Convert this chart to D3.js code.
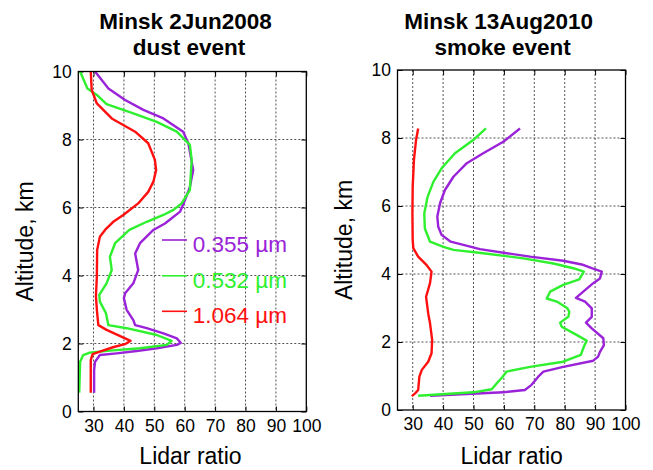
<!DOCTYPE html>
<html>
<head>
<meta charset="utf-8">
<script src="https://cdn.jsdelivr.net/npm/d3@7"></script>
<style>
  html, body { margin: 0; padding: 0; background: #fff; }
  svg { display: block; font-family: "Liberation Sans", Arial, sans-serif; }
</style>
</head>
<body>
<svg id="chart" width="653" height="470"></svg>
<script>
// ---------------- DATA ----------------
const xTicks = [30, 40, 50, 60, 70, 80, 90, 100];
const yTicks = [0, 2, 4, 6, 8, 10];
const xDomain = [25, 100];
const yDomain = [0, 10];

const seriesNames = ["0.355 \u00B5m", "0.532 \u00B5m", "1.064 \u00B5m"];
const seriesColors = ["#9a22d8", "#2ef02e", "#ff1010"];

const panelTitles = [["Minsk 2Jun2008", "dust event"], ["Minsk 13Aug2010", "smoke event"]];
const xLabel = "Lidar ratio";
const yLabel = "Altitude, km";

// Dust event (2 Jun 2008): [lidar ratio, altitude km]
const dust355 = [[30.5,10],[34.9,9.5],[40.4,9.16],[46.4,8.87],[53.0,8.62],[59.5,8.23],[61.2,7.89],[62.8,7.1],[61.7,6.6],[60.1,6.22],[58.5,5.88],[53.5,5.53],[49.7,5.34],[45.3,4.95],[43.7,4.65],[44.7,4.16],[43.1,3.77],[40.4,3.48],[40.0,3.33],[40.9,2.99],[43.1,2.69],[43.7,2.54],[47.5,2.45],[53.0,2.3],[57.4,2.15],[58.7,2.02],[57.4,1.96],[50.8,1.86],[44.2,1.78],[37.6,1.71],[32.1,1.66],[30.5,1.46],[30.2,1.22],[30.2,0.55]];
const dust532 = [[25.6,10],[28.0,9.5],[31.1,9.31],[34.3,9.04],[43.1,8.77],[50.8,8.52],[57.4,8.23],[61.7,7.84],[62.3,7.4],[61.7,6.51],[59.0,6.12],[56.3,5.93],[53.0,5.78],[47.5,5.58],[41.8,5.34],[37.1,4.95],[35.4,4.55],[36.0,4.16],[34.3,3.77],[31.9,3.43],[32.1,3.23],[34.1,2.89],[34.9,2.54],[40.9,2.45],[50.8,2.25],[55.7,2.08],[54.1,1.96],[45.3,1.86],[35.4,1.79],[28.8,1.73],[26.6,1.66],[25.6,1.46],[25.3,0.55]];
const dust1064 = [[29.1,10],[29.4,9.46],[31.1,9.06],[36.0,8.62],[43.7,8.23],[48.0,7.89],[50.2,7.4],[50.6,7.1],[49.7,6.76],[48.0,6.46],[44.7,6.12],[39.8,5.78],[36.5,5.58],[33.8,5.34],[32.1,5.14],[31.2,4.75],[31.1,3.96],[30.8,3.38],[31.2,2.89],[31.6,2.54],[34.3,2.4],[40.4,2.15],[42.2,2.08],[40.6,1.99],[36.4,1.89],[32.1,1.76],[29.7,1.69],[29.1,1.51],[29.1,0.55]];

// Smoke event (13 Aug 2010): [lidar ratio, altitude km]
const smoke355 = [[65.3,8.28],[59.8,7.89],[53.2,7.55],[47.8,7.26],[43.4,6.86],[40.6,6.47],[39.0,6.08],[38.1,5.69],[38.4,5.39],[39.5,5.15],[42.5,4.95],[52.1,4.73],[68.6,4.51],[79.5,4.39],[85.6,4.28],[88.9,4.17],[92.2,4.07],[91.6,3.87],[89.4,3.73],[86.1,3.48],[83.7,3.30],[86.7,3.19],[88.9,2.99],[88.9,2.74],[87.0,2.57],[88.9,2.4],[92.7,2.11],[92.9,1.91],[91.6,1.71],[91.0,1.57],[89.4,1.45],[79.5,1.27],[73.0,1.13],[71.3,0.98],[69.1,0.74],[66.9,0.59],[59.8,0.52],[35.7,0.42]];
const smoke532 = [[54.1,8.28],[49.9,7.94],[43.9,7.55],[39.5,7.11],[36.8,6.71],[34.9,6.27],[33.8,5.78],[34.0,5.34],[35.7,4.95],[40.1,4.8],[43.4,4.71],[53.2,4.61],[66.4,4.46],[76.3,4.31],[82.8,4.17],[86.3,4.07],[84.8,3.84],[79.5,3.68],[75.2,3.48],[74.1,3.28],[77.4,3.19],[80.9,2.99],[81.5,2.89],[81.2,2.74],[78.5,2.57],[79.0,2.45],[83.9,2.21],[87.2,2.04],[86.3,1.86],[85.3,1.62],[79.5,1.42],[68.6,1.27],[60.9,1.13],[59.6,0.98],[57.6,0.78],[56.0,0.61],[49.9,0.52],[31.8,0.42]];
const smoke1064 = [[31.8,8.28],[31.1,7.94],[30.4,7.35],[30.0,6.57],[29.9,5.78],[30.0,5.0],[30.2,4.76],[31.8,4.51],[34.6,4.26],[36.2,4.07],[35.7,3.73],[34.4,3.33],[35.1,2.84],[35.7,2.55],[36.4,2.06],[36.2,1.67],[35.1,1.42],[33.0,1.18],[32.2,0.98],[31.8,0.59],[30.8,0.49],[29.7,0.41]];

const panelSeries = [[dust355, dust532, dust1064], [smoke355, smoke532, smoke1064]];

// ---------------- LAYOUT ----------------
const panels = [
  { left: 78.3, right: 306.3, top: 71.5, bottom: 411.5,
    title: [{cx: 185.5, y: 29.3}, {cx: 189, y: 54.5}], xLabelX: 190.5, yLabelY: 241.5, legend: true },
  { left: 397.5, right: 625.5, top: 70, bottom: 410,
    title: [{cx: 498.7, y: 29.3}, {cx: 502.7, y: 54.5}], xLabelX: 511.7, yLabelY: 240, legend: false }
];

const svg = d3.select("#chart");

panels.forEach((p, pi) => {
  const x = d3.scaleLinear().domain(xDomain).range([p.left, p.right]);
  const y = d3.scaleLinear().domain(yDomain).range([p.bottom, p.top]);
  const g = svg.append("g");

  // grid
  g.append("g").selectAll("line").data(xTicks.filter(t => t > xDomain[0] && t < xDomain[1]))
    .join("line")
    .attr("x1", d => x(d)).attr("x2", d => x(d))
    .attr("y1", p.top).attr("y2", p.bottom)
    .attr("stroke", "#555").attr("stroke-width", 1).attr("stroke-dasharray", "2,2");
  g.append("g").selectAll("line").data(yTicks.filter(t => t > yDomain[0] && t < yDomain[1]))
    .join("line")
    .attr("y1", d => y(d)).attr("y2", d => y(d))
    .attr("x1", p.left).attr("x2", p.right)
    .attr("stroke", "#555").attr("stroke-width", 1).attr("stroke-dasharray", "2,2");

  // axes (ticks inward)
  const xAxis = d3.axisBottom(x).tickValues(xTicks).tickSize(-5).tickPadding(8).tickFormat(d3.format("d"));
  const yAxis = d3.axisLeft(y).tickValues(yTicks).tickSize(-5).tickPadding(6.6).tickFormat(d3.format("d"));
  const xa = g.append("g").attr("transform", `translate(0,${p.bottom})`).call(xAxis);
  const ya = g.append("g").attr("transform", `translate(${p.left},0)`).call(yAxis);
  const xt = g.append("g").attr("transform", `translate(0,${p.top})`).call(d3.axisTop(x).tickValues(xTicks).tickSize(-5).tickFormat(""));
  const yr = g.append("g").attr("transform", `translate(${p.right},0)`).call(d3.axisRight(y).tickValues(yTicks).tickSize(-5).tickFormat(""));
  [xa, ya, xt, yr].forEach(a => {
    a.select(".domain").remove();
    a.selectAll(".tick line").attr("stroke", "#000").attr("stroke-width", 1);
    a.selectAll("text").attr("font-size", 17.5).attr("fill", "#000")
      .attr("font-family", "'Liberation Sans', Arial, sans-serif");
  });

  // series lines
  const line = d3.line().x(d => x(d[0])).y(d => y(d[1])).curve(d3.curveLinear);
  panelSeries[pi].forEach((s, si) => {
    g.append("path").datum(s)
      .attr("d", line)
      .attr("fill", "none")
      .attr("stroke", seriesColors[si])
      .attr("stroke-width", 2.4)
      .attr("stroke-linejoin", "round");
  });

  // frame
  g.append("rect")
    .attr("x", p.left).attr("y", p.top)
    .attr("width", p.right - p.left).attr("height", p.bottom - p.top)
    .attr("fill", "none").attr("stroke", "#000").attr("stroke-width", 1.3);

  // titles
  panelTitles[pi].forEach((t, ti) => {
    svg.append("text")
      .attr("x", p.title[ti].cx).attr("y", p.title[ti].y)
      .attr("text-anchor", "middle")
      .attr("font-size", 22.5).attr("font-weight", "bold")
      .text(t);
  });

  // axis labels
  svg.append("text")
    .attr("x", p.xLabelX).attr("y", 464.3)
    .attr("text-anchor", "middle").attr("font-size", 23)
    .text(xLabel);
  svg.append("text")
    .attr("transform", `translate(${p.left - 45.5},${p.yLabelY}) rotate(-90)`)
    .attr("text-anchor", "middle").attr("font-size", 23)
    .text(yLabel);

  // legend
  if (p.legend) {
    const legBase = [251.7, 287.5, 323];
    seriesNames.forEach((n, i) => {
      svg.append("line")
        .attr("x1", 162).attr("x2", 187)
        .attr("y1", legBase[i] - 11.7).attr("y2", legBase[i] - 11.7)
        .attr("stroke", seriesColors[i]).attr("stroke-width", 1.6);
      svg.append("text")
        .attr("x", 192.7).attr("y", legBase[i])
        .attr("font-size", 22.5).attr("fill", seriesColors[i])
        .text(n);
    });
  }
});
</script>
</body>
</html>
